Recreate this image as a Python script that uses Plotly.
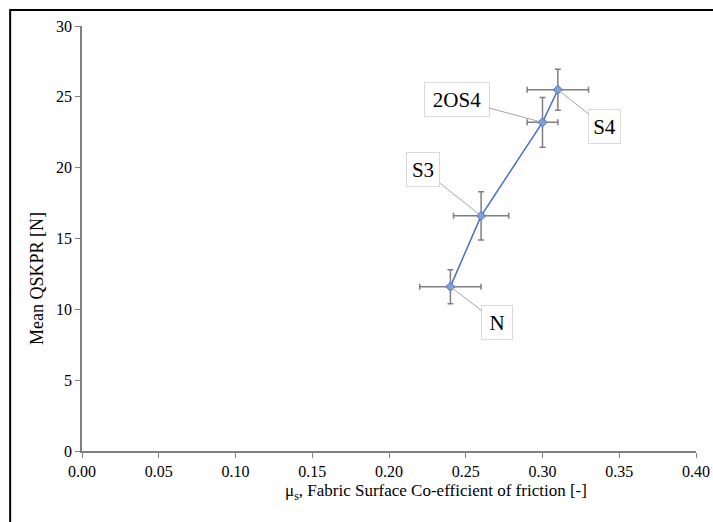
import plotly.graph_objects as go

labels = ["N", "S3", "2OS4", "S4"]
mu = [0.24, 0.26, 0.30, 0.31]
qskpr = [11.6, 16.6, 23.2, 25.5]
mu_err = [0.02, 0.018, 0.01, 0.02]
qskpr_err = [1.2, 1.7, 1.75, 1.45]

x_ticks = [0.0, 0.05, 0.10, 0.15, 0.20, 0.25, 0.30, 0.35, 0.40]
y_ticks = [0, 5, 10, 15, 20, 25, 30]

x_title = "\u03bc<sub>s</sub>, Fabric Surface Co-efficient of friction [-]"
y_title = "Mean QSKPR [N]"

FONT = "Liberation Serif, Times New Roman, serif"

fig = go.Figure()
fig.add_trace(go.Scatter(
    x=mu, y=qskpr, mode="lines+markers",
    line=dict(color="#4472C4", width=1.5),
    marker=dict(symbol="diamond", size=7, color="#7f9fdc",
                line=dict(color="#4472C4", width=1)),
    error_x=dict(type="data", array=mu_err, color="#7f7f7f", thickness=1.5, width=3),
    error_y=dict(type="data", array=qskpr_err, color="#7f7f7f", thickness=1.5, width=3),
    showlegend=False,
))

# label offsets (pixels) from each point to its label box
offsets = {"N": (47, 36), "S3": (-58, -46), "2OS4": (-86, -23), "S4": (47, 37)}
widths = {"N": 22, "S3": 24, "2OS4": 56, "S4": 23}
for lab, xv, yv in zip(labels, mu, qskpr):
    ax, ay = offsets[lab]
    fig.add_annotation(
        x=xv, y=yv, text=lab, showarrow=True, arrowhead=0, arrowwidth=1,
        arrowcolor="#a6a6a6", ax=ax, ay=ay, standoff=0,
        font=dict(family=FONT, size=21, color="black"),
        bgcolor="white", bordercolor="#d9d9d9", borderwidth=1, borderpad=4,
        width=widths[lab], height=25,
    )

# axis titles (centred on the chart area, as in the reference)
fig.add_annotation(xref="paper", yref="paper", x=0.577, y=-0.0965,
                   text=x_title, showarrow=False, xanchor="center", yanchor="middle",
                   font=dict(family=FONT, size=17, color="black"))
fig.add_annotation(xref="paper", yref="paper", x=-0.073, y=0.405,
                   text=y_title, showarrow=False, textangle=-90,
                   xanchor="center", yanchor="middle",
                   font=dict(family=FONT, size=18, color="black"))

# outer frame
fig.add_shape(type="rect", xref="paper", yref="paper",
              x0=-0.117, y0=-0.2, x1=1.2, y1=1.0376,
              line=dict(color="black", width=2), layer="below")

fig.update_layout(
    width=713, height=522, autosize=False,
    margin=dict(l=82, r=17, t=26, b=71, autoexpand=False),
    paper_bgcolor="white", plot_bgcolor="white",
    font=dict(family=FONT, size=16, color="black"),
    xaxis=dict(
        range=[0, 0.4], tickvals=x_ticks, ticktext=[f"{v:.2f}" for v in x_ticks],
        showgrid=False, zeroline=False, showline=True, linecolor="#808080", linewidth=1.5,
        ticks="outside", ticklen=5, tickcolor="#808080", automargin=False,
    ),
    yaxis=dict(
        range=[0, 30], tickvals=y_ticks,
        showgrid=False, zeroline=False, showline=True, linecolor="#808080", linewidth=1.5,
        ticks="outside", ticklen=5, tickcolor="#808080", automargin=False,
    ),
)

fig.write_html("out.html")
